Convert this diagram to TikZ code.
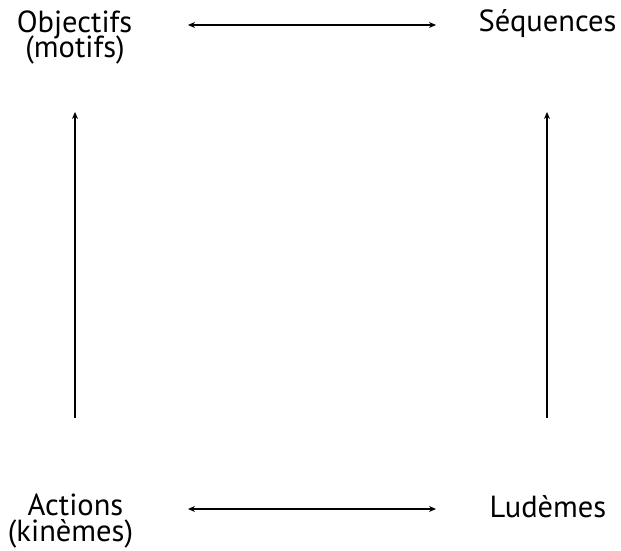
\documentclass[tikz,border=0pt]{standalone}
\usepackage{fontspec}
\setmainfont{PT Sans}
\usetikzlibrary{arrows.meta}
\tikzset{
  lbl/.style={inner sep=0pt, anchor=base, font=\fontsize{30.5}{30.5}\selectfont},
  arr/.style={line width=1.4pt, -{Stealth[length=7pt,width=6pt]}},
  darr/.style={line width=1.4pt, {Stealth[length=7pt,width=6pt]}-{Stealth[length=7pt,width=6pt]}}
}
\begin{document}
\begin{tikzpicture}[x=1pt,y=-1pt]
\useasboundingbox (0,0) rectangle (621,551);
\node[lbl] (obj) at (74.5,33) {Objectifs};
\node[lbl] (mot) at (75,58) {(motifs)};
\node[lbl] (seq) at (547.5,32) {Séquences};
\node[lbl] (act) at (75.5,515) {Actions};
\node[lbl] (kin) at (70.5,541) {(kinèmes)};
\node[lbl] (lud) at (548,517) {Ludèmes};
\coordinate (t1) at (188,25);
\coordinate (t2) at (436,25);
\coordinate (b1) at (188,509);
\coordinate (b2) at (436,509);
\coordinate (l1) at (75,418);
\coordinate (l2) at (75,112);
\coordinate (r1) at (547,418);
\coordinate (r2) at (547,112);
\draw[darr] (t1) -- (t2);
\draw[darr] (b1) -- (b2);
\draw[arr] (l1) -- (l2);
\draw[arr] (r1) -- (r2);
\end{tikzpicture}
\end{document}
